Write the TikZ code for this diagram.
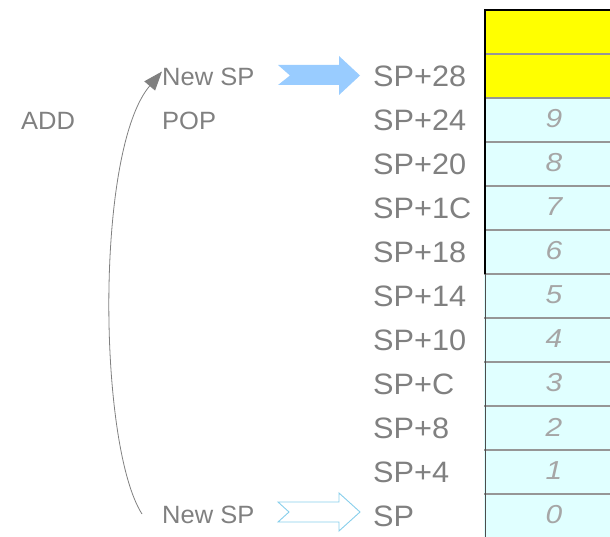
\documentclass[tikz,border=0pt]{standalone}
\usepackage{fontspec}
\setmainfont{Liberation Sans}
\usetikzlibrary{arrows.meta}

\definecolor{labelgray}{RGB}{128,128,128}
\definecolor{slotgray}{RGB}{166,166,166}
\definecolor{slotcyan}{RGB}{224,255,255}
\definecolor{slotline}{RGB}{150,150,150}
\definecolor{arrowblue}{RGB}{153,204,255}
\definecolor{skyline}{RGB}{135,206,235}
\definecolor{cellyellow}{RGB}{255,255,0}

\tikzset{
  addr/.style={anchor=west, inner sep=0pt, text=labelgray, font=\fontsize{29.5}{29.5}\selectfont, xscale=1.04},
  note/.style={anchor=west, inner sep=0pt, text=labelgray, font=\fontsize{25}{25}\selectfont, xscale=1.02},
  slot/.style={anchor=center, inner sep=0pt, text=slotgray, font=\fontsize{26}{26}\selectfont\itshape, xscale=1.15},
  sepline/.style={draw=slotline, line width=1.3pt}
}

\begin{document}
\begin{tikzpicture}[x=1pt, y=-1pt]
      \useasboundingbox (0,0) rectangle (610,537);
      \clip (0,0) rectangle (610,537);
      \fill[cellyellow] (484,10) rectangle (620,98);
      \fill[slotcyan] (484,98) rectangle (620,540);
      \foreach \yy in {54,98,...,494} \draw[sepline] (484,\yy) -- (620,\yy);
      \draw[black!70, line width=1pt] (485,274) -- (485,540);
      \draw[line width=2pt] (620,10) -- (485,10) -- (485,274);
      \node[slot] (s9) at (554,119) {9};
      \node[slot] (s8) at (554,163) {8};
      \node[slot] (s7) at (554,207) {7};
      \node[slot] (s6) at (554,251) {6};
      \node[slot] (s5) at (554,295) {5};
      \node[slot] (s4) at (554,339) {4};
      \node[slot] (s3) at (554,383) {3};
      \node[slot] (s2) at (554,427) {2};
      \node[slot] (s1) at (554,471) {1};
      \node[slot] (s0) at (554,515) {0};
      \node[addr] (sp28) at (373,76.5) {SP+28};
      \node[addr] (sp24) at (373,120.5) {SP+24};
      \node[addr] (sp20) at (373,164.5) {SP+20};
      \node[addr] (sp1C) at (373,208.5) {SP+1C};
      \node[addr] (sp18) at (373,252.5) {SP+18};
      \node[addr] (sp14) at (373,296.5) {SP+14};
      \node[addr] (sp10) at (373,340.5) {SP+10};
      \node[addr] (spC) at (373,384.5) {SP+C};
      \node[addr] (sp8) at (373,428.5) {SP+8};
      \node[addr] (sp4) at (373,472.5) {SP+4};
      \node[addr] (sp0) at (373,516.5) {SP};
      \node[note] (newt) at (162,76.5) {New SP};
      \node[note] (pop) at (162,121) {POP};
      \node[note] (add) at (21,121) {ADD};
      \node[note] (newb) at (162,515) {New SP};
      \fill[arrowblue] (278,65) -- (339,65) -- (339,56) -- (360,75.5) -- (339,95) -- (339,85) -- (278,85) -- (290,75.5) -- cycle;
      \draw[skyline, line width=0.9pt] (278,502) -- (339,502) -- (339,493) -- (360,512) -- (339,531) -- (339,522) -- (278,522) -- (289,512) -- cycle;
      \draw[labelgray, line width=0.8pt, -{Triangle[length=19pt,width=14pt]}] ([xshift=-20pt,yshift=1pt]newb.west) .. controls (98,445) and (95,150) .. ([yshift=5pt]newt.west);
    \end{tikzpicture}
\end{document}
